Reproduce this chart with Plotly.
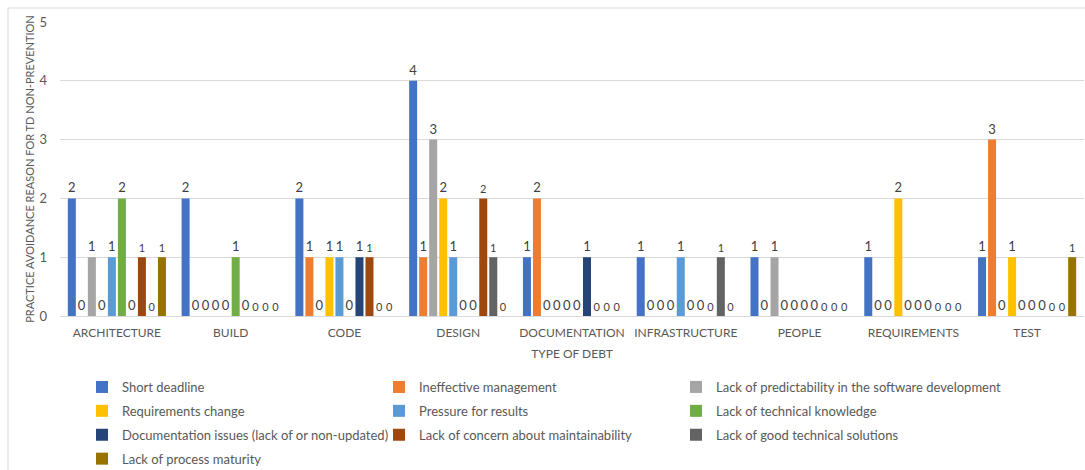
import plotly.graph_objects as go

# Debt categories on the x axis
categories = ["ARCHITECTURE", "BUILD", "CODE", "DESIGN", "DOCUMENTATION",
              "INFRASTRUCTURE", "PEOPLE", "REQUIREMENTS", "TEST"]

# Reasons (one bar series each) and their counts per category
short_deadline = [2, 2, 2, 4, 1, 1, 1, 1, 1]
ineffective_management = [0, 0, 1, 1, 2, 0, 0, 0, 3]
lack_predictability = [1, 0, 0, 3, 0, 0, 1, 0, 0]
requirements_change = [0, 0, 1, 2, 0, 0, 0, 2, 1]
pressure_for_results = [1, 0, 1, 1, 0, 1, 0, 0, 0]
lack_technical_knowledge = [2, 1, 0, 0, 0, 0, 0, 0, 0]
documentation_issues = [0, 0, 1, 0, 1, 0, 0, 0, 0]
lack_concern_maintainability = [1, 0, 1, 2, 0, 0, 0, 0, 0]
lack_good_solutions = [0, 0, 0, 1, 0, 1, 0, 0, 0]
lack_process_maturity = [1, 0, 0, 0, 0, 0, 0, 0, 1]

series_names = [
    "Short deadline",
    "Ineffective management",
    "Lack of predictability in the software development",
    "Requirements change",
    "Pressure for results",
    "Lack of technical knowledge",
    "Documentation issues (lack of or non-updated)",
    "Lack of concern about maintainability",
    "Lack of good technical solutions",
    "Lack of process maturity",
]
series_values = [
    short_deadline, ineffective_management, lack_predictability,
    requirements_change, pressure_for_results, lack_technical_knowledge,
    documentation_issues, lack_concern_maintainability, lack_good_solutions,
    lack_process_maturity,
]
colors = ["#4472C4", "#ED7D31", "#A5A5A5", "#FFC000", "#5B9BD5",
          "#70AD47", "#264478", "#9E480E", "#636363", "#997300"]

# legend column for each series (three columns laid out row by row)
legend_ids = ["legend", "legend2", "legend3"]
label_sizes = [13, 13, 13, 13, 13, 13, 13, 11, 11, 11]

FONT = "Lato, 'Open Sans', sans-serif"
TEXT_GREY = "#595959"

fig = go.Figure()
for i, (name, vals) in enumerate(zip(series_names, series_values)):
    fig.add_trace(go.Bar(
        x=categories, y=vals, name=name,
        marker=dict(color=colors[i], line=dict(width=0)),
        text=[str(v) for v in vals],
        textposition="outside",
        constraintext="none",
        cliponaxis=False,
        textfont=dict(size=label_sizes[i], color="#404040", family=FONT),
        legend=legend_ids[i % 3],
        legendgroup=f"g{i}",
        hoverinfo="x+y+name",
    ))

W, H = 1085, 470
ML, MR, MT, MB = 60, 1, 22, 154
pw, ph = W - ML - MR, H - MT - MB


def px_x(p):
    return (p - ML) / pw


def px_y(p):
    return (H - MB - p) / ph


legend_common = dict(
    orientation="v", xanchor="left", yanchor="top",
    font=dict(family=FONT, size=13, color=TEXT_GREY),
    bgcolor="rgba(0,0,0,0)", tracegroupgap=4, itemwidth=30,
)
legend_top = px_y(372)

fig.update_layout(
    width=W, height=H,
    margin=dict(l=ML, r=MR, t=MT, b=MB, pad=0, autoexpand=False),
    paper_bgcolor="white", plot_bgcolor="white",
    barmode="group", bargap=0.12, bargroupgap=0.2,
    font=dict(family=FONT, color=TEXT_GREY),
    showlegend=True,
    legend=dict(x=px_x(82), y=legend_top, **legend_common),
    legend2=dict(x=px_x(379), y=legend_top, **legend_common),
    legend3=dict(x=px_x(676), y=legend_top, **legend_common),
    xaxis=dict(
        showline=False, showgrid=False, zeroline=False,
        tickfont=dict(family=FONT, size=12, color=TEXT_GREY),
        title=dict(text="TYPE OF DEBT", standoff=10,
                   font=dict(family=FONT, size=12, color=TEXT_GREY)),
        ticks="", ticklabelstandoff=8,
    ),
    yaxis=dict(
        range=[0, 5], dtick=1, showgrid=True, gridcolor="#D9D9D9",
        gridwidth=1, zeroline=True, zerolinecolor="#D9D9D9", zerolinewidth=1,
        showline=False, ticks="", ticklabelstandoff=12,
        tickfont=dict(family=FONT, size=13, color=TEXT_GREY),
        title=dict(text="PRACTICE AVOIDANCE REASON FOR TD NON-PREVENTION",
                   standoff=2,
                   font=dict(family=FONT, size=11, color=TEXT_GREY)),
    ),
    shapes=[dict(
        type="rect", xref="paper", yref="paper",
        x0=px_x(8), y0=-2, x1=2, y1=px_y(8),
        line=dict(color="#D9D9D9", width=1), fillcolor="rgba(0,0,0,0)",
        layer="below",
    )],
)

fig.write_html("out.html")
